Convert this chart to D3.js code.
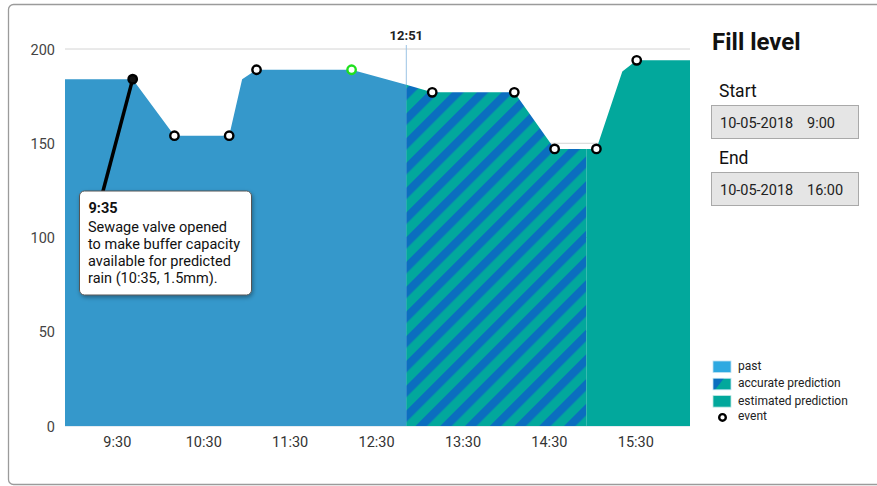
<!DOCTYPE html>
<html>
<head>
<meta charset="utf-8">
<script src="https://cdn.jsdelivr.net/npm/d3@7"></script>
<style>
  html, body { margin: 0; padding: 0; background: #fff; }
  svg { display: block; font-family: Roboto, "Noto Sans", sans-serif; }
</style>
</head>
<body>
<svg id="chart" width="877" height="486"></svg>
<script>
// Fill level of the buffer over the day: measured past, accurate and estimated prediction
const pastTimes = ["8:54", "9:41", "10:10", "10:48", "10:57", "11:07", "12:13", "12:51"];
const pastValues = [184, 184, 154, 154, 184, 189, 189, 181];

const accurateTimes = ["12:51", "13:09", "14:06", "14:34", "14:56"];
const accurateValues = [181, 177, 177, 147, 147];

const estimatedTimes = ["14:56", "15:03", "15:21", "15:31", "16:08"];
const estimatedValues = [147, 147, 188, 194, 194];

const eventTimes = ["9:41", "10:10", "10:48", "11:07", "12:13", "13:09", "14:06", "14:34", "15:03", "15:31"];
const eventValues = [184, 154, 154, 189, 189, 177, 177, 147, 147, 194];
const eventKinds = ["annotated", "normal", "normal", "normal", "current", "normal", "normal", "normal", "normal", "normal"];

const xTickLabels = ["9:30", "10:30", "11:30", "12:30", "13:30", "14:30", "15:30"];
const yTickValues = [0, 50, 100, 150, 200];
const timeDomain = ["8:54", "16:08"];
const nowLabel = "12:51";

const annotationTitle = "9:35";
const annotationLines = ["Sewage valve opened", "to make buffer capacity", "available for predicted", "rain (10:35, 1.5mm)."];

const legendLabels = ["past", "accurate prediction", "estimated prediction", "event"];
const panelTitle = "Fill level";
const rangeLabels = ["Start", "End"];
const rangeDates = ["10-05-2018", "10-05-2018"];
const rangeTimes = ["9:00", "16:00"];

const parseTime = d3.timeParse("%H:%M");
const svg = d3.select("#chart");

const COL_PAST = "#3598cb";
const COL_BLUE = "#0b6ebf";
const COL_TEAL = "#02a89c";

// outer frame
svg.append("rect")
  .attr("x", 8.5).attr("y", 4.5).attr("width", 900).attr("height", 480)
  .attr("rx", 5).attr("fill", "none").attr("stroke", "#9b9b9b").attr("stroke-width", 1.3);

const defs = svg.append("defs");
const pat = defs.append("pattern")
  .attr("id", "stripes").attr("patternUnits", "userSpaceOnUse")
  .attr("width", 17.5).attr("height", 17.5)
  .attr("patternTransform", "rotate(45)");
pat.append("rect").attr("width", 17.5).attr("height", 17.5).attr("fill", COL_TEAL);
pat.append("rect").attr("width", 8.2).attr("height", 17.5).attr("fill", COL_BLUE);

const shadow = defs.append("filter").attr("id", "shadow")
  .attr("x", "-20%").attr("y", "-20%").attr("width", "140%").attr("height", "140%");
shadow.append("feDropShadow").attr("dx", 1).attr("dy", 2).attr("stdDeviation", 2)
  .attr("flood-color", "#000").attr("flood-opacity", 0.35);

const x = d3.scaleTime()
  .domain(timeDomain.map(parseTime))
  .range([65, 690]);
const y = d3.scaleLinear().domain([0, 200]).range([426, 49]);

// grid
svg.append("g").selectAll("line").data(yTickValues).join("line")
  .attr("x1", 65).attr("x2", 690)
  .attr("y1", d => y(d)).attr("y2", d => y(d))
  .attr("stroke", d => d === 0 ? "#c9d9e6" : "#d4d4d4").attr("stroke-width", 1);

// y axis labels
const yAxis = d3.axisLeft(y).tickValues(yTickValues).tickSize(0).tickPadding(0);
const gy = svg.append("g").attr("transform", "translate(55,0)").call(yAxis);
gy.select(".domain").remove();
gy.selectAll("text").attr("font-size", 14.5).attr("fill", "#444").attr("font-family", "Roboto").attr("dy", "0.36em");

// x axis labels
const xAxis = d3.axisBottom(x)
  .tickValues(xTickLabels.map(parseTime))
  .tickFormat(d3.timeFormat("%-H:%M"))
  .tickSize(0).tickPadding(0);
const gx = svg.append("g").attr("transform", "translate(0,437)").call(xAxis);
gx.select(".domain").remove();
gx.selectAll("text").attr("font-size", 14.5).attr("fill", "#333").attr("font-family", "Roboto").attr("dy", "0.71em");

// current time marker
const xNow = x(parseTime(nowLabel));
svg.append("line")
  .attr("x1", xNow).attr("x2", xNow).attr("y1", 45).attr("y2", y(0))
  .attr("stroke", "#9cc3e4").attr("stroke-width", 1);
svg.append("text").attr("x", xNow).attr("y", 40)
  .attr("text-anchor", "middle").attr("font-size", 13).attr("font-weight", "bold")
  .attr("fill", "#222").text(nowLabel);

// areas
const area = d3.area()
  .x(d => x(d.t)).y0(y(0)).y1(d => y(d.v));
const toSeries = (ts, vs) => ts.map((t, i) => ({ t: parseTime(t), v: vs[i] }));

svg.append("path").datum(toSeries(pastTimes, pastValues))
  .attr("d", area).attr("fill", COL_PAST);
svg.append("path").datum(toSeries(accurateTimes, accurateValues))
  .attr("d", area).attr("fill", "url(#stripes)");
svg.append("path").datum(toSeries(estimatedTimes, estimatedValues))
  .attr("d", area).attr("fill", COL_TEAL);

// events
const events = eventTimes.map((t, i) => ({ t: parseTime(t), v: eventValues[i], kind: eventKinds[i] }));

// annotation callout for the first event
const anchor = events.find(e => e.kind === "annotated");
const tip = { x: 79.5, y: 191, w: 172, h: 104 };
svg.append("line")
  .attr("x1", x(anchor.t)).attr("y1", y(anchor.v))
  .attr("x2", tip.x + 23).attr("y2", tip.y + 2)
  .attr("stroke", "#000").attr("stroke-width", 3.5);

svg.append("g").selectAll("circle").data(events).join("circle")
  .attr("cx", d => x(d.t)).attr("cy", d => y(d.v)).attr("r", 4.2)
  .attr("fill", d => d.kind === "annotated" ? "#111" : "#fff")
  .attr("stroke", d => d.kind === "current" ? "#1fe01f" : "#000")
  .attr("stroke-width", 2.4);

const tipG = svg.append("g");
tipG.append("rect")
  .attr("x", tip.x).attr("y", tip.y).attr("width", tip.w).attr("height", tip.h)
  .attr("rx", 5).attr("fill", "#fff").attr("stroke", "#555").attr("stroke-width", 1)
  .attr("filter", "url(#shadow)");
tipG.append("text").attr("x", tip.x + 9).attr("y", tip.y + 22)
  .attr("font-size", 14.5).attr("font-weight", "bold").attr("fill", "#111").text(annotationTitle);
tipG.selectAll("text.line").data(annotationLines).join("text").attr("class", "line")
  .attr("x", tip.x + 8.5).attr("y", (d, i) => tip.y + 40.5 + i * 17.2)
  .attr("font-size", 14.5).attr("fill", "#111").text(d => d);

// side panel
svg.append("text").attr("x", 712).attr("y", 50)
  .attr("font-size", 24).attr("font-weight", "bold").attr("fill", "#111").text(panelTitle);

rangeLabels.forEach((lab, i) => {
  const top = 105 + i * 67;
  svg.append("text").attr("x", 719).attr("y", top - 8)
    .attr("font-size", 17.5).attr("fill", "#111").text(lab);
  svg.append("rect").attr("x", 711.5).attr("y", top + 0.5).attr("width", 147).attr("height", 33)
    .attr("fill", "#e5e5e5").attr("stroke", "#a9a9a9").attr("stroke-width", 1);
  svg.append("text").attr("x", 720).attr("y", top + 22.5)
    .attr("font-size", 14.5).attr("fill", "#222").text(rangeDates[i]);
  svg.append("text").attr("x", 807).attr("y", top + 22.5)
    .attr("font-size", 14.5).attr("fill", "#222").text(rangeTimes[i]);
});

// legend
const lg = svg.append("g");
const legendTop = 361;
legendLabels.forEach((lab, i) => {
  const yy = legendTop + i * 17.3;
  if (i === 0) {
    lg.append("rect").attr("x", 713).attr("y", yy).attr("width", 18).attr("height", 11.5)
      .attr("fill", "#2ea9e1").attr("stroke", "#bfe2f3").attr("stroke-width", 0.8);
  } else if (i === 1) {
    lg.append("rect").attr("x", 713).attr("y", yy).attr("width", 18).attr("height", 11.5)
      .attr("fill", COL_TEAL);
    lg.append("path")
      .attr("d", `M713,${yy}H724L715,${yy + 11.5}H713Z`)
      .attr("fill", COL_BLUE);
    lg.append("rect").attr("x", 713).attr("y", yy).attr("width", 18).attr("height", 11.5)
      .attr("fill", "none").attr("stroke", "#bfe2f3").attr("stroke-width", 0.8);
  } else if (i === 2) {
    lg.append("rect").attr("x", 713).attr("y", yy).attr("width", 18).attr("height", 11.5)
      .attr("fill", COL_TEAL).attr("stroke", "#bfe8e4").attr("stroke-width", 0.8);
  } else {
    lg.append("circle").attr("cx", 722.5).attr("cy", yy + 4.5).attr("r", 3.3)
      .attr("fill", "#fff").attr("stroke", "#000").attr("stroke-width", 2.4);
  }
  lg.append("text").attr("x", 738).attr("y", yy + (i === 3 ? 7.5 : 9))
    .attr("font-size", 12).attr("fill", "#222").text(lab);
});
</script>
</body>
</html>
